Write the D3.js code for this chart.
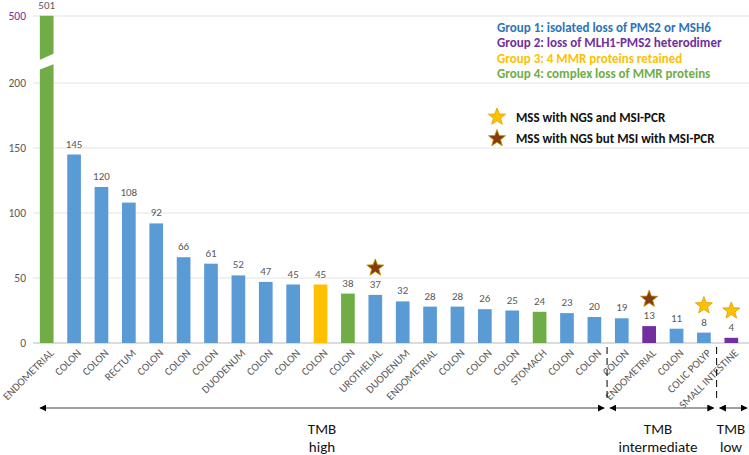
<!DOCTYPE html>
<html><head><meta charset="utf-8">
<script src="https://cdn.jsdelivr.net/npm/d3@7"></script>
<style>body{margin:0;background:#fff}svg{display:block}</style>
</head><body><svg id="c" width="749" height="455"></svg>
<script>
const categories = ["ENDOMETRIAL","COLON","COLON","RECTUM","COLON","COLON","COLON","DUODENUM","COLON","COLON","COLON","COLON","UROTHELIAL","DUODENUM","ENDOMETRIAL","COLON","COLON","COLON","STOMACH","COLON","COLON","COLON","ENDOMETRIAL","COLON","COLIC POLYP","SMALL INTESTINE"];
const values = [501,145,120,108,92,66,61,52,47,45,45,38,37,32,28,28,26,25,24,23,20,19,13,11,8,4];
const groups = [4,1,1,1,1,1,1,1,1,1,3,4,1,1,1,1,1,1,4,1,1,1,2,1,1,2];
const stars = [null,null,null,null,null,null,null,null,null,null,null,null,"brown",null,null,null,null,null,null,null,null,null,"brown",null,"gold","gold"];
const yTicks = [0,50,100,150,200,500];
const groupLabels = ["Group 1: isolated loss of PMS2 or MSH6","Group 2: loss of MLH1-PMS2 heterodimer","Group 3: 4 MMR proteins retained","Group 4: complex loss of MMR proteins"];
const starLabels = ["MSS with NGS and MSI-PCR","MSS with NGS but MSI with MSI-PCR"];
const tmbLabels = [["TMB","high"],["TMB","intermediate"],["TMB","low"]];
// index ranges of bars covered by each TMB class
const tmbRanges = [[0,20],[21,24],[25,25]];

const groupColor = {1:"#5B9BD5",2:"#7030A0",3:"#FFC000",4:"#70AD47"};
const legendColor = ["#2E75B6","#7030A0","#FFC000","#70AD47"];
const starFill = {gold:"#FFC000",brown:"#843C0C"};
const starStroke = {gold:"#D9A000",brown:"#C59000"};
const FONT = "Carlito, Calibri, Lato, sans-serif";

const svg = d3.select("#c");
const x = d3.scaleBand().domain(d3.range(categories.length)).range([33,745]).paddingInner(0.5).paddingOuter(0.25);
const y = d3.scaleLinear().domain([0,200,500]).range([343,83,16]);
const bw = x.bandwidth();
const gap = x.step()-bw;

// grid
svg.append("g").selectAll("line").data(yTicks).join("line")
  .attr("x1",33).attr("x2",749).attr("y1",d=>y(d)).attr("y2",d=>y(d))
  .attr("stroke",d=>d===0?"#d0d0d0":"#e3e3e3").attr("stroke-width",d=>d===0?1.5:1);
svg.append("g").selectAll("text").data(yTicks).join("text")
  .attr("x",26).attr("y",d=>y(d)).attr("dy","0.35em").attr("text-anchor","end")
  .attr("font-family",FONT).attr("font-size",11.5)
  .attr("fill",d=>d===500?"#7030A0":"#595959").text(d=>d);

// bars
svg.append("g").selectAll("rect").data(values).join("rect")
  .attr("x",(d,i)=>x(i)).attr("width",bw)
  .attr("y",d=>y(d)).attr("height",d=>y(0)-y(d))
  .attr("fill",(d,i)=>groupColor[groups[i]]);

// axis break on first bar (slanted white gap)
{
  const x0 = x(0)-2, x1 = x(0)+bw+2;
  svg.append("polygon")
    .attr("points",`${x0},${y(300)} ${x1},${y(336)} ${x1},${y(287)} ${x0},${y(257)}`)
    .attr("fill","#fff");
}

// value labels
svg.append("g").selectAll("text").data(values).join("text")
  .attr("x",(d,i)=>x(i)+bw/2).attr("y",d=>y(d)-7)
  .attr("text-anchor","middle").attr("font-family",FONT).attr("font-size",11)
  .attr("fill","#595959").text(d=>d);

// stars
const starPath = (r) => {
  const pts=[];
  for(let k=0;k<10;k++){const a=-Math.PI/2+k*Math.PI/5;const rr=k%2?r*0.42:r;pts.push([rr*Math.cos(a),rr*Math.sin(a)]);}
  return "M"+pts.map(p=>p.join(",")).join("L")+"Z";
};
svg.append("g").selectAll("path").data(values.map((v,i)=>({v,i,s:stars[i]})).filter(d=>d.s)).join("path")
  .attr("d",starPath(9))
  .attr("transform",d=>`translate(${x(d.i)+bw/2},${y(d.v)-27})`)
  .attr("fill",d=>starFill[d.s]).attr("stroke",d=>starStroke[d.s]).attr("stroke-width",0.8);

// x labels
svg.append("g").selectAll("text").data(categories).join("text")
  .attr("transform",(d,i)=>`translate(${x(i)+bw/2+5},${351}) rotate(-45)`)
  .attr("text-anchor","end").attr("dy","0.35em")
  .attr("font-family",FONT).attr("font-size",11).attr("fill","#595959").text(d=>d);

// legend
svg.append("g").selectAll("text").data(groupLabels).join("text")
  .attr("x",497).attr("y",(d,i)=>27+i*15.5).attr("dy","0.35em")
  .attr("font-family",FONT).attr("font-size",13).attr("font-weight","bold")
  .attr("fill",(d,i)=>legendColor[i]).text(d=>d);
const sk = ["gold","brown"];
starLabels.forEach((t,i)=>{
  const yy = 117+i*21.5;
  svg.append("path").attr("d",starPath(9)).attr("transform",`translate(497,${yy})`)
    .attr("fill",starFill[sk[i]]).attr("stroke",starStroke[sk[i]]).attr("stroke-width",0.8);
  svg.append("text").attr("x",516).attr("y",yy).attr("dy","0.35em")
    .attr("font-family",FONT).attr("font-size",13).attr("font-weight","bold").attr("fill","#111").text(t);
});

// dashed separators between TMB classes
[tmbRanges[1][0], tmbRanges[2][0]].forEach(i=>{
  const xx = x(i) - gap/2 - 1;
  svg.append("line").attr("x1",xx).attr("x2",xx).attr("y1",347).attr("y2",401)
    .attr("stroke","#000").attr("stroke-width",1).attr("stroke-dasharray","7,4");
});

// arrows
const defs = svg.append("defs");
defs.append("marker").attr("id","ah").attr("viewBox","0 0 10 10").attr("refX",9).attr("refY",5)
  .attr("markerWidth",7).attr("markerHeight",7).attr("orient","auto-start-reverse").attr("markerUnits","userSpaceOnUse")
  .append("path").attr("d","M0,0L10,5L0,10Z").attr("fill","#000");
const segs = tmbRanges.map((r,k)=>{
  const a = k===0 ? 40 : x(r[0]) - gap/2 + 2;
  const b = k===2 ? 747 : x(r[1]+1) - gap/2 - 4;
  return [a,b];
});
segs.forEach(s=>{
  svg.append("line").attr("x1",s[0]).attr("x2",s[1]).attr("y1",408).attr("y2",408)
    .attr("stroke","#7f7f7f").attr("stroke-width",1.5)
    .attr("marker-start","url(#ah)").attr("marker-end","url(#ah)");
});
const tmbX = [322, 658, 731];
tmbLabels.forEach((t,i)=>{
  t.forEach((w,j)=>{
    svg.append("text").attr("x",tmbX[i]).attr("y",429+j*18).attr("dy","0.35em")
      .attr("text-anchor","middle").attr("font-family",FONT).attr("font-size",15).attr("fill","#111").text(w);
  });
});
</script></body></html>
